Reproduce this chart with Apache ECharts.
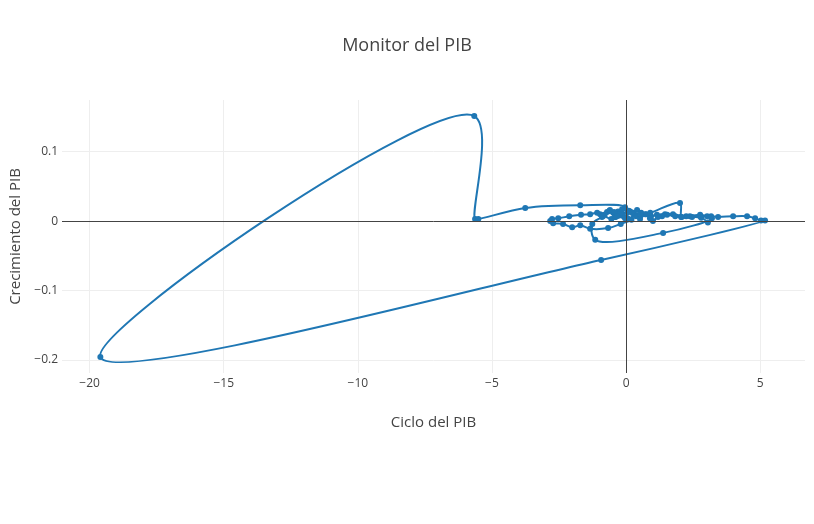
<!DOCTYPE html>
<html>
<head>
<meta charset="utf-8">
<script src="https://cdn.jsdelivr.net/npm/echarts@6/dist/echarts.min.js"></script>
<style>
html,body{margin:0;padding:0;background:#fff;}
#chart{width:814px;height:524px;}
</style>
</head>
<body>
<div id="chart"></div>
<script>
// Ciclo del PIB (x) y Crecimiento del PIB (y), en orden temporal
const ciclo = [
  -0.97, -0.71, -0.48, -0.30, -0.15, 0.07, 0.26, 0.41, 0.56, 0.75,
  0.93, 1.15, 1.45, 1.75, 2.24, 2.76, 3.02, 3.20,
  1.38, -1.15, -1.26,
  -0.90, -0.62, -0.40, -0.20, 0.05, 0.30, 0.10, -0.25, -0.55, -0.80,
  -0.45, -0.10, 0.20, -0.20, -0.67,
  -1.34, -1.71, -2.01, -2.35, -2.72, -2.83, -2.76, -2.53, -2.12, -1.68,
  -1.34, -1.08,
  -0.86, -0.60, -0.41, -0.22, -0.04, 0.15, 0.37, 0.52, 0.71, 0.89,
  1.00, 1.19, 1.34, 1.53, 1.83, 2.05, 2.38, 2.76, 3.17, 3.43,
  3.99, 4.51, 4.81, 5.03, 5.18,
  -0.93, -19.6, -5.66, -5.63, -5.51, -3.76, -1.71, -0.04,
  -0.34, -0.15, 0.22, 0.55, 0.90, 2.01, 2.07, 2.46, 2.80, 3.05
];
const crecimiento = [
  0.010, 0.013, 0.012, 0.014, 0.010, 0.013, 0.012, 0.016, 0.012, 0.010,
  0.007, 0.009, 0.010, 0.010, 0.007, 0.009, 0.007, 0.004,
  -0.017, -0.027, -0.004,
  0.006, 0.015, 0.006, 0.012, 0.004, 0.009, 0.015, 0.008, 0.003, 0.009,
  0.013, 0.007, 0.002, -0.004, -0.010,
  -0.011, -0.006, -0.009, -0.004, -0.003, 0.000, 0.003, 0.004, 0.007, 0.009,
  0.010, 0.012,
  0.007, 0.016, 0.006, 0.012, 0.004, 0.014, 0.007, 0.003, 0.010, 0.004,
  0.000, 0.006, 0.007, 0.009, 0.007, 0.006, 0.007, 0.007, 0.007, 0.006,
  0.007, 0.007, 0.004, 0.001, 0.001,
  -0.056, -0.196, 0.1515, 0.003, 0.003, 0.019, 0.023, 0.020,
  0.007, 0.017, 0.012, 0.010, 0.012, 0.026, 0.006, 0.006, 0.005, -0.002
];
const xTicks = [-20, -15, -10, -5, 0, 5];
const yTicks = [-0.2, -0.1, 0, 0.1];

const points = ciclo.map((c, i) => [c, crecimiento[i]]);
const fmt = v => String(v).replace('-', '\u2212');
const font = '"Open Sans", verdana, arial, sans-serif';
const COLOR = '#1f77b4';

// Spline segment (Catmull-Rom style, like a "spline" line shape), computed in pixel space
function tangent(pp, tp, np) {
  const d1x = pp[0] - tp[0], d1y = pp[1] - tp[1];
  const d2x = np[0] - tp[0], d2y = np[1] - tp[1];
  const d1a = Math.pow(d1x * d1x + d1y * d1y, 0.25);
  const d2a = Math.pow(d2x * d2x + d2y * d2y, 0.25);
  const numx = d2a * d2a * d1x - d1a * d1a * d2x;
  const numy = d2a * d2a * d1y - d1a * d1a * d2y;
  const den1 = 3 * d2a * (d1a + d2a);
  const den2 = 3 * d1a * (d1a + d2a);
  return [
    [tp[0] + (den1 && numx / den1), tp[1] + (den1 && numy / den1)],
    [tp[0] - (den2 && numx / den2), tp[1] - (den2 && numy / den2)]
  ];
}

function renderSegment(params, api) {
  const j = params.dataIndex;
  const n = points.length;
  if (j >= n - 1) return null;
  const P = k => api.coord(points[k]);
  const a = P(j), b = P(j + 1);
  let shape;
  if (n < 3) {
    shape = {x1: a[0], y1: a[1], x2: b[0], y2: b[1], cpx1: (a[0] + b[0]) / 2, cpy1: (a[1] + b[1]) / 2};
  } else if (j === 0) {
    const t = tangent(a, b, P(j + 2));
    shape = {x1: a[0], y1: a[1], x2: b[0], y2: b[1], cpx1: t[0][0], cpy1: t[0][1]};
  } else if (j === n - 2) {
    const t = tangent(P(j - 1), a, b);
    shape = {x1: a[0], y1: a[1], x2: b[0], y2: b[1], cpx1: t[1][0], cpy1: t[1][1]};
  } else {
    const ta = tangent(P(j - 1), a, b);
    const tb = tangent(a, b, P(j + 2));
    shape = {x1: a[0], y1: a[1], x2: b[0], y2: b[1],
             cpx1: ta[1][0], cpy1: ta[1][1], cpx2: tb[0][0], cpy2: tb[0][1]};
  }
  return {
    type: 'bezierCurve',
    shape: shape,
    style: {stroke: COLOR, lineWidth: 2, fill: null, lineCap: 'round', lineJoin: 'round'}
  };
}

const chart = echarts.init(document.getElementById('chart'), null, {renderer: 'canvas'});
chart.setOption({
  animation: false,
  backgroundColor: '#fff',
  textStyle: {fontFamily: font},
  title: {
    text: 'Monitor del PIB',
    left: 'center',
    top: 32,
    textStyle: {fontFamily: font, fontSize: 18, fontWeight: 'normal', color: '#444'}
  },
  grid: {left: 62, right: 9, top: 100, bottom: 151, containLabel: false},
  xAxis: {
    type: 'value',
    min: -21.03, max: 6.67,
    name: 'Ciclo del PIB',
    nameLocation: 'middle',
    nameGap: 42,
    nameTextStyle: {fontFamily: font, fontSize: 15, color: '#444'},
    axisLine: {show: false},
    axisTick: {show: false, customValues: xTicks},
    axisLabel: {customValues: xTicks, margin: 5, color: '#444', fontSize: 12, fontFamily: font, formatter: fmt},
    splitLine: {show: true, lineStyle: {color: '#eee', width: 1}}
  },
  yAxis: {
    type: 'value',
    min: -0.219, max: 0.1746,
    name: 'Crecimiento del PIB',
    nameLocation: 'middle',
    nameGap: 34,
    nameTextStyle: {fontFamily: font, fontSize: 15, color: '#444'},
    axisLine: {show: false},
    axisTick: {show: false, customValues: yTicks},
    axisLabel: {customValues: yTicks, margin: 4, color: '#444', fontSize: 12, fontFamily: font, formatter: fmt},
    splitLine: {show: true, lineStyle: {color: '#eee', width: 1}}
  },
  series: [
    {
      type: 'line',
      data: [],
      z: 1,
      silent: true,
      markLine: {
        silent: true,
        symbol: ['none', 'none'],
        label: {show: false},
        lineStyle: {color: '#444', width: 1, type: 'solid'},
        data: [{xAxis: 0}, {yAxis: 0}]
      }
    },
    {
      type: 'custom',
      z: 2,
      silent: true,
      clip: true,
      data: points,
      encode: {x: 0, y: 1},
      renderItem: renderSegment
    },
    {
      type: 'scatter',
      z: 3,
      data: points,
      symbol: 'circle',
      symbolSize: 6,
      itemStyle: {color: COLOR, opacity: 1}
    }
  ]
});
</script>
</body>
</html>
